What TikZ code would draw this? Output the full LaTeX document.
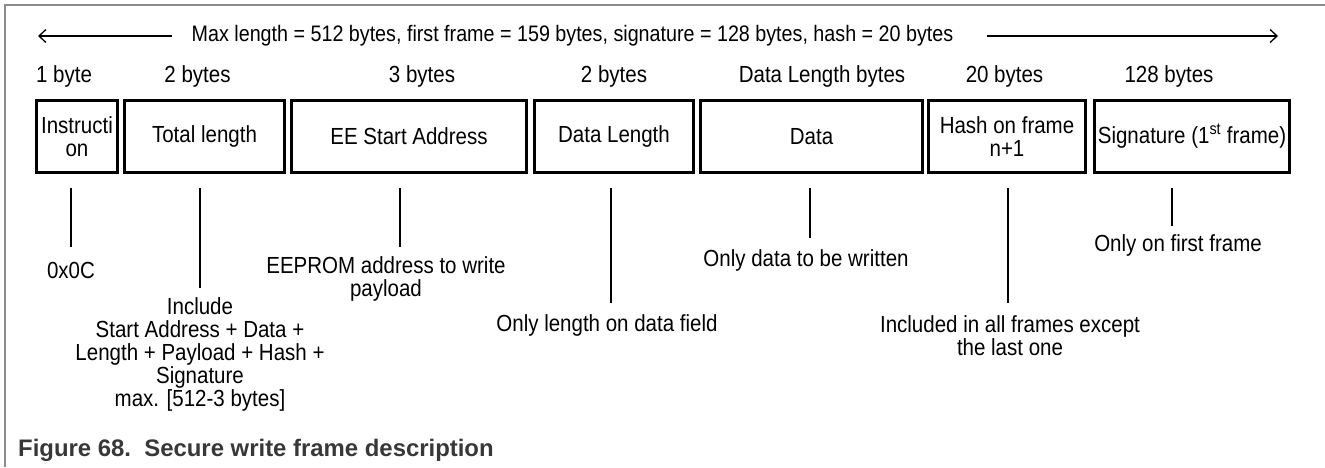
\documentclass[tikz,border=0pt]{standalone}
\usepackage{fontspec}
\setmainfont[FakeStretch=0.88]{Liberation Sans}
\newfontfamily\captionface{Liberation Sans}
\usetikzlibrary{arrows.meta}

\begin{document}
\begin{tikzpicture}[x=1pt, y=-1pt,
    every node/.style={font=\fontsize{23.3}{23}\selectfont, inner sep=0pt},
    field/.style={draw, line width=2.6pt, minimum height=72.4pt, align=center},
    note/.style={align=center},
    pin/.style={line width=1.2pt},
    span/.style={line width=1.3pt, -{Straight Barb[length=7pt, width=13pt]}}]
    \useasboundingbox (0,0) rectangle (1325,467);
    \draw[black!45, line width=2pt] (5,467) -- (5,5) -- (1325,5);
    
    \node[font=\fontsize{22.4}{23}\selectfont] (hdr) at (572.5,36) {Max length = 512 bytes, first frame = 159 bytes, signature = 128 bytes, hash = 20 bytes};
    \coordinate (la) at (38,36);
    \coordinate (ra) at (1278,36);
    \draw[span] ([xshift=-20]hdr.west) -- (la);
    \draw[span] ([xshift=34]hdr.east) -- (ra);
    
    \node (s1) at (64,76) {1 byte};
    \node (s2) at (197.5,76) {2 bytes};
    \node (s3) at (422,76) {3 bytes};
    \node (s4) at (614,76) {2 bytes};
    \node (s5) at (822,76) {Data Length bytes};
    \node (s6) at (1004.5,76) {20 bytes};
    \node (s7) at (1169,76) {128 bytes};
    
    \node[field, minimum width=81.4] (b1) at (77,136.5) {Instructi\\on};
    \node[field, minimum width=160.4] (b2) at (204.5,136.5) {Total length};
    \node[field, minimum width=235.4] (b3) at (409,136.5) {EE Start Address};
    \node[field, minimum width=159.4] (b4) at (614,136.5) {Data Length};
    \node[field, minimum width=222.4] (b5) at (811.5,136.5) {Data};
    \node[field, minimum width=157.4] (b6) at (1007,136.5) {Hash on frame\\n+1};
    \node[field, minimum width=195.4] (b7) at (1192,136.5) {Signature (1\textsuperscript{st} frame)};
    
    \coordinate (p1) at (71,247);
    \coordinate (p2) at (200,288);
    \coordinate (p3) at (400,247);
    \coordinate (p4) at (611,303);
    \coordinate (p5) at (810,238);
    \coordinate (p6) at (1008,303);
    \coordinate (p7) at (1172,226);
    \draw[pin] ([yshift=-14]b1.south -| p1) -- (p1);
    \draw[pin] ([yshift=-14]b2.south -| p2) -- (p2);
    \draw[pin] ([yshift=-14]b3.south -| p3) -- (p3);
    \draw[pin] ([yshift=-14]b4.south -| p4) -- (p4);
    \draw[pin] ([yshift=-14]b5.south -| p5) -- (p5);
    \draw[pin] ([yshift=-14]b6.south -| p6) -- (p6);
    \draw[pin] ([yshift=-14]b7.south -| p7) -- (p7);
    
    \node (n1) at (71,270) {0x0C};
    \node[note] (n2) at (200,354) {Include\\Start Address + Data +\\Length + Payload + Hash +\\Signature\\max. [512-3 bytes]};
    \node[note] (n3) at (386,278.5) {EEPROM address to write\\payload};
    \node (n4) at (607,325) {Only length on data field};
    \node (n5) at (806,260) {Only data to be written};
    \node[note] (n6) at (1010,335.5) {Included in all frames except\\the last one};
    \node (n7) at (1178,245) {Only on first frame};
    
    \node[anchor=west, font=\captionface\fontsize{23.9}{28}\selectfont\bfseries, text=black!78] (cap) at (18,450) {Figure 68.\ \ Secure write frame description};
\end{tikzpicture}
\end{document}
